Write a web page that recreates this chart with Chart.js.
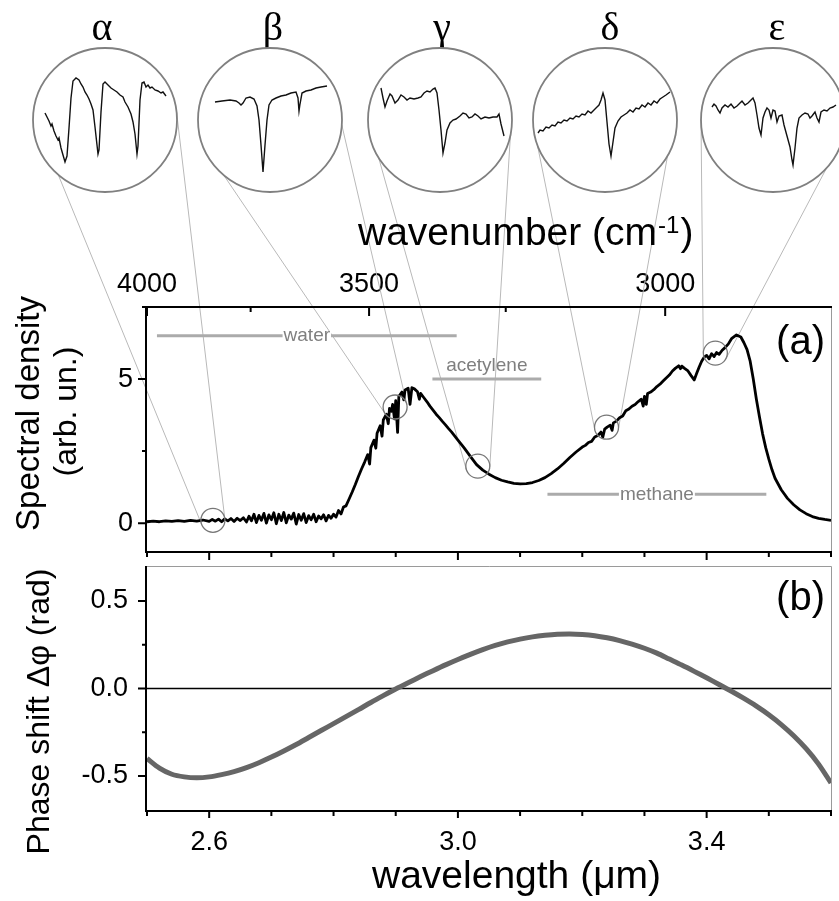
<!DOCTYPE html>
<html>
<head>
<meta charset="utf-8">
<script src="https://cdn.jsdelivr.net/npm/chart.js@4.4.0/dist/chart.umd.min.js"></script>
<style>
  body { margin: 0; background: #fff; }
  #wrap { position: relative; width: 839px; height: 901px; overflow: hidden; background: #fff; }
  #wrap canvas { position: absolute; }
</style>
</head>
<body>
<div id="wrap">
  <canvas id="chartA" width="839" height="560" style="left:0;top:0"></canvas>
  <canvas id="chartB" width="839" height="341" style="left:0;top:560px"></canvas>
</div>
<script>
// spectrum (a): wavelength in um, spectral density in arb. units
const specWl = [
  2.500,2.510,2.520,2.530,2.540,2.550,2.560,2.570,2.580,2.590,
  2.600,2.605,2.610,2.615,2.620,2.625,2.630,2.635,2.640,2.645,
  2.650,2.655,2.660,2.664,2.668,2.672,2.676,2.680,2.684,2.688,
  2.692,2.696,2.700,2.704,2.708,2.712,2.716,2.720,2.724,2.728,
  2.732,2.736,2.740,2.744,2.748,2.752,2.756,2.760,2.764,2.768,
  2.772,2.776,2.780,2.784,2.788,2.792,2.796,2.800,2.804,2.808,
  2.812,2.816,2.820,2.825,2.830,2.835,2.840,2.845,2.850,2.855,
  2.858,2.860,2.865,2.868,2.870,2.875,2.878,2.880,2.885,2.888,
  2.890,2.893,2.895,2.898,2.900,2.903,2.905,2.910,2.913,2.915,
  2.920,2.923,2.926,2.930,2.935,2.938,2.940,2.945,2.950,2.955,
  2.960,2.965,2.970,2.975,2.980,2.985,2.990,2.995,3.000,3.010,
  3.020,3.030,3.040,3.050,3.060,3.070,3.080,3.090,3.100,3.110,
  3.120,3.130,3.140,3.150,3.160,3.170,3.180,3.190,3.200,3.205,
  3.210,3.215,3.220,3.225,3.230,3.233,3.236,3.240,3.245,3.248,
  3.250,3.255,3.260,3.265,3.270,3.275,3.280,3.285,3.290,3.295,
  3.298,3.300,3.303,3.305,3.310,3.315,3.320,3.325,3.330,3.335,
  3.340,3.345,3.350,3.355,3.358,3.360,3.365,3.370,3.375,3.380,
  3.384,3.388,3.392,3.396,3.400,3.404,3.408,3.412,3.416,3.420,
  3.425,3.430,3.435,3.440,3.448,3.455,3.460,3.465,3.470,3.475,
  3.480,3.485,3.490,3.495,3.500,3.505,3.510,3.520,3.530,3.540,
  3.550,3.560,3.570,3.580,3.590,3.600
];
const specVal = [
  0.05,0.07,0.05,0.08,0.06,0.09,0.06,0.10,0.07,0.11,
  0.06,0.13,0.07,0.14,0.05,0.15,0.08,0.16,0.06,0.17,
  0.09,0.19,0.04,0.24,0.08,0.31,0.02,0.27,0.10,0.34,
  0.00,0.29,0.12,0.36,-0.02,0.31,0.09,0.37,0.01,0.28,
  0.14,0.35,-0.03,0.30,0.10,0.33,0.02,0.26,0.12,0.31,
  0.05,0.25,0.15,0.29,0.08,0.27,0.17,0.31,0.21,0.44,
  0.32,0.56,0.60,0.84,1.08,1.34,1.62,1.88,2.12,2.38,
  2.05,2.62,2.88,2.60,3.12,3.38,3.02,3.58,3.78,3.45,
  3.98,3.88,4.12,3.62,4.25,3.15,4.40,4.55,4.28,4.62,
  4.68,4.12,4.70,4.66,4.56,4.30,4.50,4.36,4.22,4.06,
  3.92,3.78,3.66,3.53,3.41,3.28,3.16,3.02,2.88,2.61,
  2.32,2.03,1.84,1.70,1.58,1.49,1.43,1.38,1.36,1.37,
  1.41,1.48,1.58,1.72,1.88,2.07,2.28,2.47,2.64,2.70,
  2.80,2.84,2.99,3.04,3.16,2.98,3.26,3.33,3.40,3.22,
  3.48,3.54,3.66,3.72,3.90,3.96,4.06,4.12,4.22,4.30,
  4.06,4.40,4.12,4.50,4.55,4.63,4.74,4.82,4.93,5.04,
  5.14,5.28,5.38,5.46,5.36,5.45,5.36,5.28,5.12,4.97,
  5.20,5.42,5.62,5.76,5.82,5.70,5.88,5.78,5.92,5.86,
  6.00,6.10,6.22,6.40,6.53,6.46,6.26,6.02,5.62,5.00,
  4.30,3.68,3.10,2.62,2.22,1.86,1.56,1.16,0.86,0.64,
  0.46,0.33,0.23,0.17,0.13,0.10
];

// phase shift (b)
const phaseWl = [
  2.50,2.52,2.54,2.56,2.58,2.60,2.62,2.64,2.66,2.68,
  2.70,2.72,2.74,2.76,2.78,2.80,2.82,2.84,2.86,2.88,
  2.90,2.92,2.94,2.96,2.98,3.00,3.02,3.04,3.06,3.08,
  3.10,3.12,3.14,3.16,3.18,3.20,3.22,3.24,3.26,3.28,
  3.30,3.32,3.34,3.36,3.38,3.40,3.42,3.44,3.46,3.48,
  3.50,3.52,3.54,3.56,3.58,3.60
];
const phaseVal = [
  -0.400,-0.455,-0.490,-0.505,-0.510,-0.505,-0.492,-0.475,-0.452,-0.424,
  -0.392,-0.357,-0.320,-0.280,-0.240,-0.201,-0.161,-0.121,-0.080,-0.041,
  -0.003,0.033,0.068,0.102,0.135,0.166,0.195,0.222,0.246,0.266,
  0.282,0.295,0.304,0.310,0.312,0.309,0.302,0.290,0.274,0.254,
  0.230,0.202,0.168,0.134,0.098,0.061,0.023,-0.016,-0.057,-0.101,
  -0.150,-0.206,-0.270,-0.344,-0.432,-0.540
];

// absorption bands
const bandNames = ['water', 'acetylene', 'methane'];
const bandStart = [2.516, 2.959, 3.144];
const bandEnd = [2.998, 3.134, 3.496];
const bandLevel = [6.5, 5.0, 1.0];

// magnified spots on the spectrum
const markNames = ['α', 'β', 'γ', 'δ', 'ε'];
const markWl = [2.606, 2.899, 3.032, 3.239, 3.414];
const markVal = [0.10, 4.03, 1.98, 3.33, 5.90];

// zoomed traces inside the circles (relative units)
const alphaX = [12,14,16,18,19,21,23,25,26,28,30,32,34,36,38,40,43,46,48,50,52,54,56,58,60,62,64,65,66,68,70,72,75,78,81,84,87,90,92,95,98,100,102,104,105,107,109,111,113,115,117,119,122,125,128,130,133];
const alphaY = [79,75,71,66,68,61,56,52,54,44,37,30,36,64,94,111,114,112,108,105,100,97,93,88,82,65,47,38,42,80,108,110,107,104,102,100,97,95,90,85,78,70,58,38,46,92,109,110,105,107,104,105,102,101,99,100,96];
const betaX = [17,24,32,38,41,43,45,48,52,56,59,61,63,65,67,69,71,74,78,83,88,93,98,100,101,102,104,108,113,118,123,129];
const betaY = [90,91,92,91,89,87,89,94,95,93,86,72,47,20,47,72,87,92,94,96,97,99,100,94,81,88,99,101,102,104,105,106];
const gammaX = [13,15,17,19,22,24,27,30,33,36,39,42,46,50,53,56,59,62,65,67,69,71,73,75,77,79,82,85,88,92,95,98,101,104,107,110,113,117,121,125,129,131,133,136];
const gammaY = [104,94,85,91,98,96,89,92,97,95,92,94,93,94,95,99,101,100,103,104,99,82,62,39,49,62,69,72,73,76,79,78,74,75,78,76,73,75,74,75,75,78,68,56];
const deltaX = [5,7,10,13,16,19,22,25,28,31,34,37,40,43,46,49,52,55,58,61,64,66,68,70,72,74,76,78,80,82,85,88,91,94,97,100,103,106,109,112,115,118,121,124,127,130,133,137];
const deltaY = [59,62,61,65,64,67,66,70,69,72,71,74,73,76,75,78,77,81,79,82,85,87,92,99,92,70,48,36,50,64,71,75,77,79,82,80,84,83,87,85,89,87,91,89,93,95,97,100];
const epsX = [11,13,15,17,19,21,24,27,30,33,36,39,41,44,47,50,52,54,56,58,60,62,64,66,68,70,72,74,76,78,81,83,86,89,91,92,94,96,98,101,104,107,109,111,114,116,118,120,123,126,129,132,135];
const epsY = [85,88,86,82,79,84,87,85,88,84,86,89,91,87,89,92,94,89,77,64,57,74,80,84,82,74,82,81,70,76,77,67,56,45,32,27,44,64,74,77,79,78,74,76,80,74,70,80,82,81,84,85,87];

// axis ticks
const topMajorWn = [4000, 3500, 3000];
const topMinorWn = [3750, 3250];
const wlMajor = [2.6, 3.0, 3.4];
const wlMinor = [2.5, 2.7, 2.8, 2.9, 3.1, 3.2, 3.3, 3.5, 3.6];
const yMajorA = [0, 5];
const yMinorA = [2.5, 7.5];
const yMajorB = [-0.5, 0, 0.5];
const yMinorB = [-0.25, 0.25];

// layout of the magnifier circles
const insetCenters = [[105, 120], [270, 120], [440, 120], [605, 120], [773, 120]];
const insetR = 72;
const labelX = [102, 273, 442, 610, 777];
const attachAngles = [[130.5, -6.3], [130, 4], [148.5, 11.8], [160, 29.6], [180, 42]];
const markR = 12;

Chart.defaults.font.family = '"Liberation Sans", Arial, sans-serif';
Chart.defaults.color = '#000';

const pts = (xs, ys) => xs.map((x, i) => ({x: x, y: ys[i]}));

// fix the axis box size and drop the label overflow padding
function fixBox(w, h) {
  return s => {
    if (w !== null) s.width = w;
    if (h !== null) s.height = h;
    s.paddingTop = 0; s.paddingBottom = 0; s.paddingLeft = 0; s.paddingRight = 0;
  };
}

function tickMarks(ctx, scale, values, len, dir) {
  const a = scale.chart.chartArea;
  ctx.beginPath();
  values.forEach(v => {
    const p = scale.getPixelForValue(v);
    if (dir === 'left') { ctx.moveTo(a.left, p); ctx.lineTo(a.left - len, p); }
    else if (dir === 'bottom') { ctx.moveTo(p, a.bottom); ctx.lineTo(p, a.bottom + len); }
    else { ctx.moveTo(p, a.top); ctx.lineTo(p, a.top + len); }
  });
  ctx.stroke();
}

function vText(ctx, txt, x, y, font) {
  ctx.save();
  ctx.translate(x, y);
  ctx.rotate(-Math.PI / 2);
  ctx.font = font;
  ctx.textAlign = 'center';
  ctx.textBaseline = 'alphabetic';
  ctx.fillStyle = '#000';
  ctx.fillText(txt, 0, 0);
  ctx.restore();
}

const decorA = {
  id: 'decorA',
  beforeDatasetsDraw(chart) {
    const ctx = chart.ctx, xs = chart.scales.x, ys = chart.scales.y;
    ctx.save();
    ctx.strokeStyle = '#b9b9b9';
    ctx.lineWidth = 1;
    markWl.forEach((w, i) => {
      const cx = xs.getPixelForValue(w), cy = ys.getPixelForValue(markVal[i]);
      const [ix, iy] = insetCenters[i];
      attachAngles[i].forEach((deg, k) => {
        const t = deg * Math.PI / 180;
        const px = ix + insetR * Math.cos(t), py = iy + insetR * Math.sin(t);
        const d = Math.hypot(px - cx, py - cy);
        const base = Math.atan2(py - cy, px - cx), al = Math.acos(markR / d);
        const q1 = [cx + markR * Math.cos(base + al), cy + markR * Math.sin(base + al)];
        const q2 = [cx + markR * Math.cos(base - al), cy + markR * Math.sin(base - al)];
        const q = (k === 0) === (q1[0] < q2[0]) ? q1 : q2;
        ctx.beginPath();
        ctx.moveTo(px, py);
        ctx.lineTo(q[0], q[1]);
        ctx.stroke();
      });
    });
    ctx.restore();
  },
  afterDatasetsDraw(chart) {
    const ctx = chart.ctx, a = chart.chartArea;
    const xs = chart.scales.x, ys = chart.scales.y;
    ctx.save();

    // band labels
    ctx.font = '19px "Liberation Sans", Arial, sans-serif';
    ctx.textAlign = 'center';
    ctx.textBaseline = 'middle';
    bandNames.forEach((name, i) => {
      const x = (xs.getPixelForValue(bandStart[i]) + xs.getPixelForValue(bandEnd[i])) / 2;
      let y = ys.getPixelForValue(bandLevel[i]);
      if (name === 'acetylene') {
        y -= 13;
      } else {
        const w = ctx.measureText(name).width;
        ctx.fillStyle = '#fff';
        ctx.fillRect(x - w / 2 - 1, y - 4, w + 2, 8);
      }
      ctx.fillStyle = '#7f7f7f';
      ctx.fillText(name, x, y);
    });

    // frame
    ctx.lineCap = 'butt';
    ctx.strokeStyle = '#9a9a9a';
    ctx.lineWidth = 1;
    ctx.beginPath();
    ctx.moveTo(a.right + 0.5, a.top);
    ctx.lineTo(a.right + 0.5, a.bottom);
    ctx.stroke();
    ctx.strokeStyle = '#000';
    ctx.lineWidth = 2;
    ctx.beginPath();
    ctx.moveTo(a.right + 1, a.top);
    ctx.lineTo(a.left - 1, a.top);
    ctx.lineTo(a.left - 1, a.bottom);
    ctx.lineTo(a.right + 1, a.bottom);
    ctx.stroke();
    tickMarks(ctx, ys, yMajorA, 9, 'left');
    tickMarks(ctx, ys, yMinorA, 5, 'left');
    tickMarks(ctx, xs, wlMajor, 9, 'bottom');
    tickMarks(ctx, xs, wlMinor, 5, 'bottom');
    tickMarks(ctx, xs, topMajorWn.map(w => 1e4 / w), 9, 'top');
    tickMarks(ctx, xs, topMinorWn.map(w => 1e4 / w), 5, 'top');

    // titles
    const mid = (a.top + a.bottom) / 2;
    vText(ctx, 'Spectral density', 39, mid - 16, '33px "Liberation Sans", Arial, sans-serif');
    vText(ctx, '(arb. un.)', 76, mid - 18, '32px "Liberation Sans", Arial, sans-serif');

    ctx.fillStyle = '#000';
    ctx.textBaseline = 'alphabetic';
    ctx.textAlign = 'right';
    ctx.font = '40px "Liberation Sans", Arial, sans-serif';
    ctx.fillText('(a)', a.right - 6, a.top + 47);

    ctx.textAlign = 'left';
    let x = 358;
    const yT = a.top - 62;
    ctx.font = '39px "Liberation Sans", Arial, sans-serif';
    ctx.fillText('wavenumber (cm', x, yT);
    x += ctx.measureText('wavenumber (cm').width + 1;
    ctx.font = '24px "Liberation Sans", Arial, sans-serif';
    ctx.fillText('-1', x, yT - 12);
    x += ctx.measureText('-1').width + 1;
    ctx.font = '39px "Liberation Sans", Arial, sans-serif';
    ctx.fillText(')', x, yT);

    ctx.textAlign = 'center';
    ctx.font = '40px "Liberation Serif", "Times New Roman", serif';
    markNames.forEach((n, i) => ctx.fillText(n, labelX[i], 40));
    ctx.restore();
  }
};

const decorB = {
  id: 'decorB',
  afterDatasetsDraw(chart) {
    const ctx = chart.ctx, a = chart.chartArea;
    const xs = chart.scales.x, ys = chart.scales.y;
    ctx.save();
    ctx.strokeStyle = '#9a9a9a';
    ctx.lineWidth = 1;
    ctx.beginPath();
    ctx.moveTo(a.left, a.top + 0.5);
    ctx.lineTo(a.right + 0.5, a.top + 0.5);
    ctx.lineTo(a.right + 0.5, a.bottom);
    ctx.stroke();
    ctx.strokeStyle = '#000';
    ctx.lineWidth = 2;
    ctx.beginPath();
    ctx.moveTo(a.left - 1, a.top);
    ctx.lineTo(a.left - 1, a.bottom);
    ctx.lineTo(a.right + 1, a.bottom);
    ctx.stroke();
    tickMarks(ctx, ys, yMajorB, 9, 'left');
    tickMarks(ctx, ys, yMinorB, 5, 'left');
    tickMarks(ctx, xs, wlMajor, 7, 'bottom');
    tickMarks(ctx, xs, wlMinor, 5, 'bottom');

    vText(ctx, 'Phase shift Δφ (rad)', 49, (a.top + a.bottom) / 2 + 23, '32px "Liberation Sans", Arial, sans-serif');

    ctx.fillStyle = '#000';
    ctx.textBaseline = 'alphabetic';
    ctx.textAlign = 'right';
    ctx.font = '40px "Liberation Sans", Arial, sans-serif';
    ctx.fillText('(b)', a.right - 6, a.top + 44);
    ctx.textAlign = 'left';
    ctx.font = '39px "Liberation Sans", Arial, sans-serif';
    ctx.fillText('wavelength (μm)', 372, a.bottom + 77);
    ctx.restore();
  }
};

const hidden = {display: false, drawTicks: false};
const noBorder = {display: false};
const tickFont = {size: 27};

new Chart(document.getElementById('chartA'), {
  type: 'line',
  data: {
    datasets: [
      {
        data: pts(markWl, markVal),
        showLine: false,
        pointRadius: markR,
        pointBorderColor: '#777',
        pointBackgroundColor: 'rgba(0,0,0,0)',
        pointBorderWidth: 1.3,
        order: 0
      },
      {
        data: pts(specWl, specVal),
        borderColor: '#000',
        borderWidth: 2.8,
        borderJoinStyle: 'round',
        pointRadius: 0,
        order: 1
      },
      ...bandNames.map((n, i) => ({
        data: [{x: bandStart[i], y: bandLevel[i]}, {x: bandEnd[i], y: bandLevel[i]}],
        borderColor: '#ababab',
        borderWidth: 3,
        pointRadius: 0,
        order: 2
      }))
    ]
  },
  options: {
    responsive: false,
    animation: false,
    devicePixelRatio: 1,
    layout: {padding: {top: 257, left: 0, right: 8, bottom: 0}, autoPadding: false},
    plugins: {legend: {display: false}, tooltip: {enabled: false}},
    scales: {
      x: {
        type: 'linear', position: 'bottom', min: 2.5, max: 3.6,
        grid: hidden, border: noBorder, ticks: {display: false},
        afterFit: fixBox(null, 8)
      },
      x2: {
        type: 'linear', position: 'top', min: 2.5, max: 3.6,
        grid: hidden, border: noBorder,
        afterBuildTicks: s => { s.ticks = topMajorWn.map(w => ({value: 1e4 / w})); },
        ticks: {autoSkip: false, maxRotation: 0, padding: 6, font: tickFont,
          callback: v => String(Math.round(1e4 / v))},
        afterFit: fixBox(null, 50)
      },
      y: {
        type: 'linear', min: -1, max: 7.5,
        grid: hidden, border: noBorder,
        afterBuildTicks: s => { s.ticks = yMajorA.map(v => ({value: v})); },
        ticks: {autoSkip: false, padding: 14, font: tickFont, callback: v => String(v)},
        afterFit: fixBox(147, null)
      }
    }
  },
  plugins: [decorA]
});

new Chart(document.getElementById('chartB'), {
  type: 'line',
  data: {
    datasets: [
      {
        data: pts(phaseWl, phaseVal),
        borderColor: '#666',
        borderWidth: 5,
        pointRadius: 0,
        tension: 0.3,
        order: 0
      },
      {
        data: [{x: 2.5, y: 0}, {x: 3.6, y: 0}],
        borderColor: '#000',
        borderWidth: 1.5,
        pointRadius: 0,
        order: 1
      }
    ]
  },
  options: {
    responsive: false,
    animation: false,
    devicePixelRatio: 1,
    layout: {padding: {top: 6, left: 0, right: 8, bottom: 0}, autoPadding: false},
    plugins: {legend: {display: false}, tooltip: {enabled: false}},
    scales: {
      x: {
        type: 'linear', position: 'bottom', min: 2.5, max: 3.6,
        grid: hidden, border: noBorder,
        afterBuildTicks: s => { s.ticks = wlMajor.map(v => ({value: v})); },
        ticks: {autoSkip: false, maxRotation: 0, padding: 15, font: tickFont,
          callback: v => v.toFixed(1)},
        afterFit: fixBox(null, 90)
      },
      y: {
        type: 'linear', min: -0.7, max: 0.7,
        grid: hidden, border: noBorder,
        afterBuildTicks: s => { s.ticks = yMajorB.map(v => ({value: v})); },
        ticks: {autoSkip: false, padding: 19, font: tickFont, callback: v => v.toFixed(1)},
        afterFit: fixBox(147, null)
      }
    }
  },
  plugins: [decorB]
});

// magnifier circles with the zoomed traces
const ring = {
  id: 'ring',
  afterDatasetsDraw(chart) {
    const ctx = chart.ctx;
    ctx.save();
    ctx.strokeStyle = '#808080';
    ctx.lineWidth = 1.8;
    ctx.beginPath();
    ctx.arc(chart.width / 2, chart.height / 2, insetR, 0, Math.PI * 2);
    ctx.stroke();
    ctx.restore();
  }
};

const insets = [[alphaX, alphaY], [betaX, betaY], [gammaX, gammaY], [deltaX, deltaY], [epsX, epsY]];
const wrap = document.getElementById('wrap');
insets.forEach(([xs, ys], i) => {
  const cv = document.createElement('canvas');
  cv.width = 148;
  cv.height = 148;
  cv.style.left = (insetCenters[i][0] - 74) + 'px';
  cv.style.top = (insetCenters[i][1] - 74) + 'px';
  wrap.appendChild(cv);
  new Chart(cv, {
    type: 'line',
    data: {datasets: [{data: pts(xs, ys), borderColor: '#111', borderWidth: 1.4, pointRadius: 0}]},
    options: {
      responsive: false,
      animation: false,
      devicePixelRatio: 1,
      layout: {padding: 0, autoPadding: false},
      plugins: {legend: {display: false}, tooltip: {enabled: false}},
      scales: {
        x: {type: 'linear', display: false, min: -2, max: 146},
        y: {type: 'linear', display: false, min: -2, max: 146}
      }
    },
    plugins: [ring]
  });
});
</script>
</body>
</html>
